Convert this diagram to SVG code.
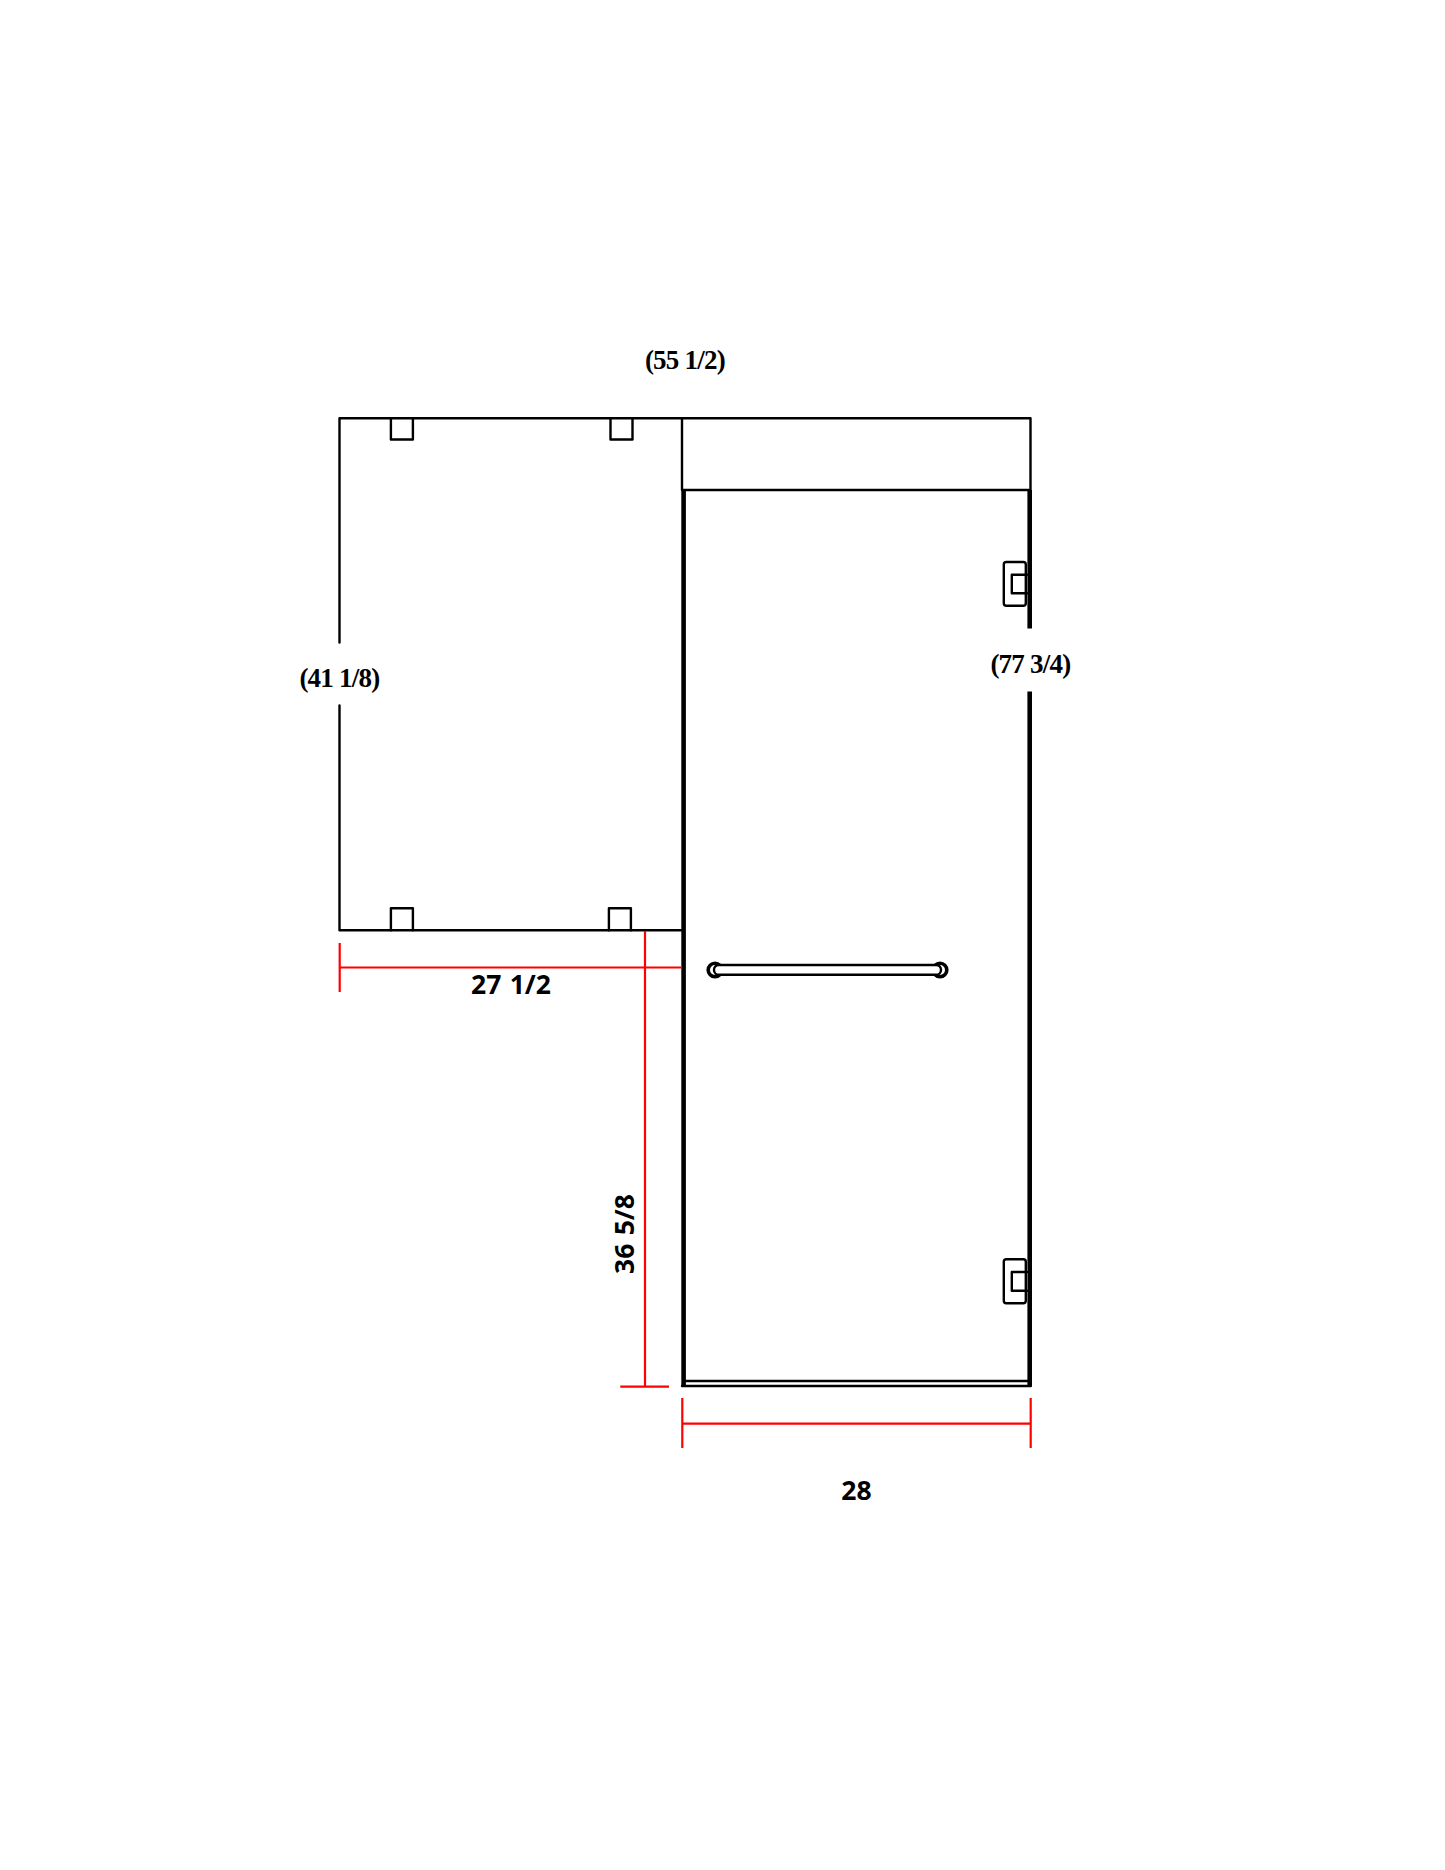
<svg xmlns="http://www.w3.org/2000/svg" width="1445" height="1870" viewBox="0 0 1445 1870">
<style>
.k{fill:none;stroke:#000;stroke-width:2.4;stroke-linejoin:round;stroke-linecap:round}
.t{fill:none;stroke:#000;stroke-width:4.6}
.r{fill:none;stroke:#f00;stroke-width:2.2}
.s{font-family:"Liberation Serif",serif;font-weight:700;font-size:27px;fill:#000;text-anchor:middle;letter-spacing:-0.75px}
.m{font-family:"Noto Sans",sans-serif;font-weight:700;font-size:26.5px;fill:#000;text-anchor:middle}
</style>
<rect width="1445" height="1870" fill="#fff"/>
<g id="left-panel">
<path class="k" d="M339.5 642.5V418.3H1030.5V490M339.5 705.5V930.3H682M682 418.3V490"/>
<path class="k" d="M390.9 418.3V439.5H412.9V418.3M610.5 418.3V439.5H632.5V418.3M390.9 930.3V908.3H412.9V930.3M608.9 930.3V908.3H630.9V930.3"/>
</g>
<g id="door">
<path class="k" d="M683 490H1029"/>
<path class="t" d="M683.6 490V1386"/>
<path class="t" d="M1029.7 490V628.5M1029.7 691.5V1386"/>
<path class="k" d="M682 1386H1030.8V1381M684 1381H1029"/>
</g>
<g id="hinge-top">
<rect class="k" x="1003.8" y="562" width="22" height="43.7" rx="2.5"/>
<path class="k" d="M1027 574.7H1011.8V593.3H1027"/>
</g>
<g id="hinge-bottom">
<rect class="k" x="1003.8" y="1259.3" width="22" height="44" rx="2.5"/>
<path class="k" d="M1027 1272H1011.8V1290.7H1027"/>
</g>
<g id="handle">
<circle cx="715" cy="970" r="6.8" fill="#fff" stroke="#000" stroke-width="3.6"/>
<circle cx="940" cy="970" r="6.8" fill="#fff" stroke="#000" stroke-width="3.6"/>
<rect x="714" y="965" width="227" height="9.7" rx="4.8" fill="#fff" stroke="#000" stroke-width="2.4"/>
</g>
<g id="connectors">
<path class="r" d="M339.7 943V992M339.7 967.5H682"/>
<path class="r" d="M645 931V1386.6M620.3 1386.6H669"/>
<path class="r" d="M682.3 1398V1448M1030.7 1398V1448M682.3 1423.7H1030.7"/>
</g>
<g id="labels">
<text class="s" x="685" y="369">(55 1/2)</text>
<text class="s" x="339.5" y="687">(41 1/8)</text>
<text class="s" x="1030.5" y="673">(77 3/4)</text>
<text class="m" x="511" y="993.5" word-spacing="1.5">27 1/2</text>
<text class="m" x="856.5" y="1499.5">28</text>
<text class="m" transform="translate(633.5 1234) rotate(-90)" word-spacing="1.5">36 5/8</text>
</g>
</svg>
